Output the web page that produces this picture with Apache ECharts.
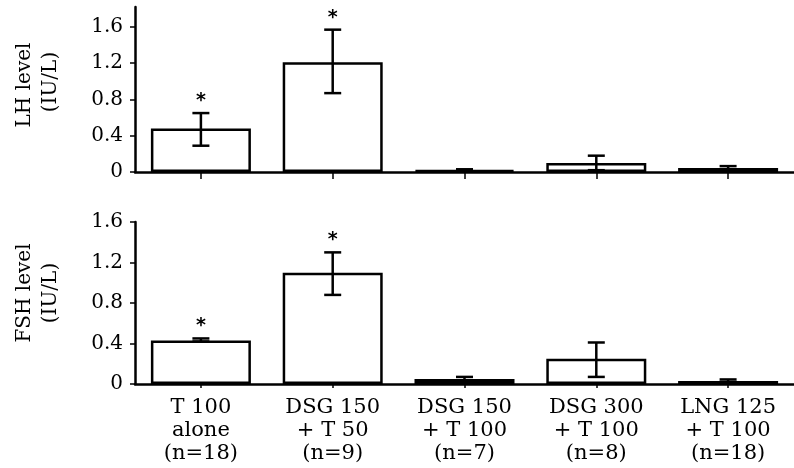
<!DOCTYPE html>
<html>
<head>
<meta charset="utf-8">
<script src="https://cdn.jsdelivr.net/npm/echarts@6/dist/echarts.min.js"></script>
<style>html,body{margin:0;padding:0;background:#fff}#c{width:794px;height:468px}</style>
</head>
<body>
<div id="c"></div>
<script>
const categories = ['T 100\nalone\n(n=18)', 'DSG 150\n+ T 50\n(n=9)', 'DSG 150\n+ T 100\n(n=7)', 'DSG 300\n+ T 100\n(n=8)', 'LNG 125\n+ T 100\n(n=18)'];
const lhMean = [0.48, 1.21, 0.02, 0.10, 0.045];
const lhLow  = [0.29, 0.87, 0.01, 0.02, 0.025];
const lhHigh = [0.65, 1.57, 0.03, 0.18, 0.065];
const fshMean = [0.43, 1.10, 0.05, 0.25, 0.03];
const fshLow  = [0.42, 0.88, 0.035, 0.07, 0.02];
const fshHigh = [0.45, 1.30, 0.07, 0.41, 0.045];
const significant = [1, 1, 0, 0, 0];
const yTicks = [0, 0.4, 0.8, 1.2, 1.6];

const FONT = 'DejaVu Serif';

function errData(low, high) {
  return low.map((l, i) => [i, l, high[i], significant[i]]);
}
function renderErr(params, api) {
  const i = api.value(0);
  const lo = api.coord([i, api.value(1)]);
  const hi = api.coord([i, api.value(2)]);
  const x = lo[0];
  const cap = 8.5;
  const st = { stroke: '#000', lineWidth: 2.5 };
  const children = [
    { type: 'line', shape: { x1: x, y1: lo[1], x2: x, y2: hi[1] }, style: st },
    { type: 'line', shape: { x1: x - cap, y1: lo[1], x2: x + cap, y2: lo[1] }, style: st },
    { type: 'line', shape: { x1: x - cap, y1: hi[1], x2: x + cap, y2: hi[1] }, style: st }
  ];
  if (api.value(3)) {
    children.push({ type: 'text', x: x, y: hi[1] - 12, style: { text: '*', fill: '#000', font: 'bold 19px "DejaVu Sans"', align: 'center', verticalAlign: 'middle' } });
  }
  return { type: 'group', children: children };
}

function yAxisCfg(idx, max) {
  return {
    type: 'value', gridIndex: idx, min: 0, max: max,
    axisLine: { show: true, lineStyle: { color: '#000', width: 2.5 } },
    axisTick: { show: true, length: 5, customValues: yTicks, lineStyle: { color: '#000', width: 1.5 } },
    axisLabel: { customValues: yTicks, color: '#000', fontFamily: FONT, fontSize: 20, margin: 12,
      formatter: v => (v === 0 ? '0' : v.toFixed(1)) },
    splitLine: { show: false }
  };
}
function xAxisCfg(idx, showLabel, tickLen) {
  return {
    type: 'category', gridIndex: idx, data: categories,
    axisLine: { show: true, lineStyle: { color: '#000', width: 2.5 } },
    axisTick: { show: true, alignWithLabel: true, length: tickLen, lineStyle: { color: '#000', width: 1.5 } },
    axisLabel: { show: showLabel, color: '#000', fontFamily: FONT, fontSize: 21, lineHeight: 23, margin: 12, interval: 0 }
  };
}
const barStyle = { color: '#fff', borderColor: '#000', borderWidth: 2.5 };

const chart = echarts.init(document.getElementById('c'), null, { renderer: 'canvas' });
chart.setOption({
  backgroundColor: '#fff',
  animation: false,
  grid: [
    { left: 135, top: 7, width: 662, height: 165 },
    { left: 135, top: 222, width: 662, height: 162 }
  ],
  xAxis: [xAxisCfg(0, false, 7), xAxisCfg(1, true, 4)],
  yAxis: [yAxisCfg(0, 1.82), yAxisCfg(1, 1.6)],
  graphic: [
    { type: 'text', x: 25, y: 85, rotation: Math.PI / 2, style: { text: 'LH level', font: '20px "DejaVu Serif"', fill: '#000', align: 'center', verticalAlign: 'middle' } },
    { type: 'text', x: 51, y: 82, rotation: Math.PI / 2, style: { text: '(IU/L)', font: '20px "DejaVu Serif"', fill: '#000', align: 'center', verticalAlign: 'middle' } },
    { type: 'text', x: 25, y: 293, rotation: Math.PI / 2, style: { text: 'FSH level', font: '20px "DejaVu Serif"', fill: '#000', align: 'center', verticalAlign: 'middle' } },
    { type: 'text', x: 51, y: 293, rotation: Math.PI / 2, style: { text: '(IU/L)', font: '20px "DejaVu Serif"', fill: '#000', align: 'center', verticalAlign: 'middle' } }
  ],
  series: [
    { type: 'bar', xAxisIndex: 0, yAxisIndex: 0, data: lhMean, barWidth: 100, itemStyle: barStyle },
    { type: 'custom', xAxisIndex: 0, yAxisIndex: 0, data: errData(lhLow, lhHigh), renderItem: renderErr, z: 5 },
    { type: 'bar', xAxisIndex: 1, yAxisIndex: 1, data: fshMean, barWidth: 100, itemStyle: barStyle },
    { type: 'custom', xAxisIndex: 1, yAxisIndex: 1, data: errData(fshLow, fshHigh), renderItem: renderErr, z: 5 }
  ]
});
</script>
</body>
</html>
